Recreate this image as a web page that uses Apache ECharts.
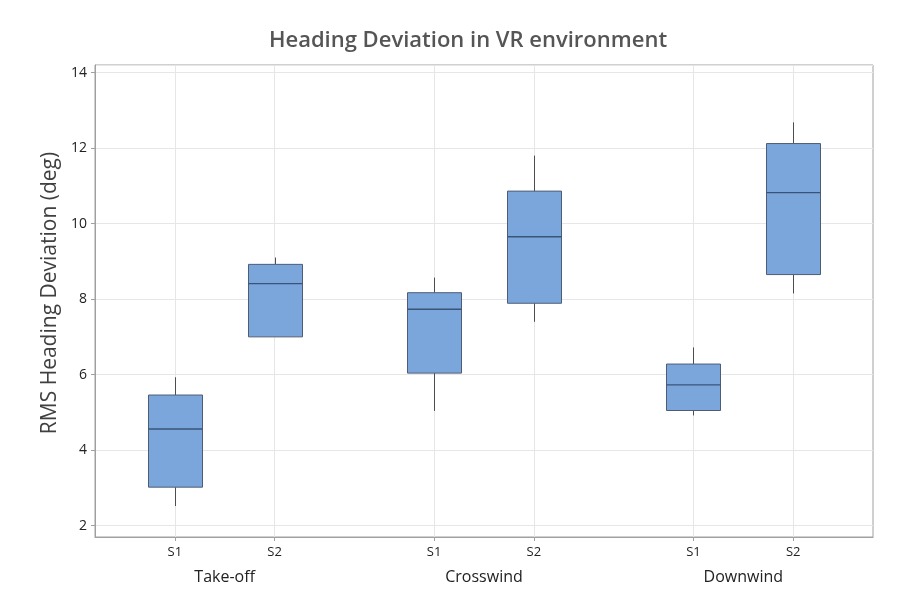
<!DOCTYPE html>
<html>
<head>
<meta charset="utf-8">
<script src="https://cdn.jsdelivr.net/npm/echarts@6/dist/echarts.min.js"></script>
<style>
  html, body { margin: 0; padding: 0; background: #ffffff; }
  #chart { width: 904px; height: 605px; }
</style>
</head>
<body>
<div id="chart"></div>
<script>
// Flight phases and sessions
const phases = ['Take-off', 'Crosswind', 'Downwind'];
const sessions = ['S1', 'S2'];

// Box statistics per phase: [min, Q1, median, Q3, max]
const takeOff   = [[2.52, 3.02, 4.56, 5.46, 5.93], [7.00, 7.00, 8.41, 8.92, 9.10]];
const crosswind = [[5.04, 6.04, 7.73, 8.17, 8.57], [7.40, 7.89, 9.65, 10.86, 11.80]];
const downwind  = [[4.92, 5.05, 5.73, 6.28, 6.72], [8.15, 8.65, 10.82, 12.12, 12.68]];

const yTicks = [2, 4, 6, 8, 10, 12, 14];

// Slot layout along the category axis: outer margin, spacing inside a phase, spacing between phases
const EDGE = 4, INNER = 5, BETWEEN = 8;
const BOX_WIDTH = 54;

const phaseData = [takeOff, crosswind, downwind];

// Build the slot keys and the box items
const slotKeys = [];
const boxItems = [];
const phaseCenters = [];
let cursor = EDGE;
phases.forEach((phase, p) => {
  sessions.forEach((s, k) => {
    const pos = cursor + k * INNER;
    boxItems.push({ pos, key: phase + ' ' + s, stats: phaseData[p][k] });
  });
  phaseCenters.push(cursor + INNER / 2);
  cursor += INNER + BETWEEN;
});
const lastSlot = boxItems[boxItems.length - 1].pos + EDGE;
for (let i = 0; i <= lastSlot; i++) {
  const hit = boxItems.find(b => b.pos === i);
  slotKeys.push(hit ? hit.key : '_' + i);
}
// Band axis used for the phase names (one band per unit of slot spacing)
const bandKeys = [];
for (let i = 0; i < lastSlot; i++) {
  const c = phaseCenters.findIndex(v => Math.floor(v) === i);
  bandKeys.push(c >= 0 ? phases[c] : '_' + i);
}

const isBoxSlot = (idx, val) => !String(val).startsWith('_');

// Box with plain whiskers (no end caps)
function renderBox(params, api) {
  const x = api.value(0);
  const [lo, q1, med, q3, hi] = [1, 2, 3, 4, 5].map(d => api.value(d));
  const pMin = api.coord([x, lo]);
  const pQ1 = api.coord([x, q1]);
  const pMed = api.coord([x, med]);
  const pQ3 = api.coord([x, q3]);
  const pMax = api.coord([x, hi]);
  const cx = Math.round(pQ1[0]) + 0.5;
  const half = BOX_WIDTH / 2;
  const whisker = { stroke: '#4d4d4d', lineWidth: 1 };
  return {
    type: 'group',
    children: [
      { type: 'line', shape: { x1: cx, y1: pQ3[1], x2: cx, y2: pMax[1] }, style: whisker },
      { type: 'line', shape: { x1: cx, y1: pQ1[1], x2: cx, y2: pMin[1] }, style: whisker },
      {
        type: 'rect',
        shape: { x: cx - half, y: pQ3[1], width: BOX_WIDTH, height: pQ1[1] - pQ3[1] },
        style: { fill: '#7ba6db', stroke: '#4e5d75', lineWidth: 1 }
      },
      {
        type: 'line',
        shape: { x1: cx - half, y1: pMed[1], x2: cx + half, y2: pMed[1] },
        style: { stroke: '#3a5478', lineWidth: 1.4 }
      }
    ]
  };
}

const chart = echarts.init(document.getElementById('chart'));
const fontFamily = '"Open Sans", "Noto Sans", sans-serif';

chart.setOption({
  animation: false,
  backgroundColor: '#ffffff',
  textStyle: { fontFamily },
  title: {
    text: 'Heading Deviation in VR environment',
    left: 463,
    top: 25,
    textAlign: 'center',
    textStyle: { fontSize: 22, fontWeight: 600, color: '#555555', fontFamily }
  },
  grid: {
    left: 95, right: 31, top: 65, bottom: 68,
    show: true,
    borderColor: '#a0a0a0',
    borderWidth: 1,
    containLabel: false
  },
  xAxis: [
    {
      type: 'category',
      data: slotKeys,
      boundaryGap: false,
      axisLine: { show: true, lineStyle: { color: '#a0a0a0' } },
      axisTick: { show: true, interval: isBoxSlot, length: 4, lineStyle: { color: '#a0a0a0' } },
      axisLabel: {
        interval: isBoxSlot,
        formatter: v => v.split(' ').pop(),
        color: '#222',
        fontSize: 13,
        margin: 9
      },
      splitLine: { show: true, interval: isBoxSlot, lineStyle: { color: '#e6e6e6' } }
    },
    {
      type: 'category',
      data: bandKeys,
      boundaryGap: true,
      position: 'bottom',
      axisLine: { show: false },
      axisTick: { show: false },
      splitLine: { show: false },
      axisLabel: {
        interval: isBoxSlot,
        color: '#222',
        fontSize: 16,
        margin: 32
      }
    }
  ],
  yAxis: {
    type: 'value',
    min: 1.7,
    max: 14.2,
    splitNumber: 6,
    minInterval: yTicks[1] - yTicks[0],
    maxInterval: yTicks[1] - yTicks[0],
    name: 'RMS Heading Deviation (deg)',
    nameLocation: 'middle',
    nameGap: 34,
    nameTextStyle: { fontSize: 21, color: '#404040', padding: [0, 0, 0, 16] },
    axisLine: { show: true, lineStyle: { color: '#a0a0a0' } },
    axisTick: { show: true, length: 4, lineStyle: { color: '#a0a0a0' } },
    axisLabel: {
      color: '#222',
      fontSize: 14,
      margin: 8,
      showMinLabel: false,
      showMaxLabel: false,
      formatter: v => {
        const r = Math.round(v);
        return (Math.abs(v - r) < 1e-6 && yTicks.includes(r)) ? String(r) : '';
      }
    },
    splitLine: { show: true, lineStyle: { color: '#e6e6e6' } }
  },
  series: [{
    type: 'custom',
    xAxisIndex: 0,
    renderItem: renderBox,
    encode: { x: 0, y: [1, 2, 3, 4, 5] },
    data: boxItems.map(b => [b.pos].concat(b.stats))
  }]
});
</script>
</body>
</html>
